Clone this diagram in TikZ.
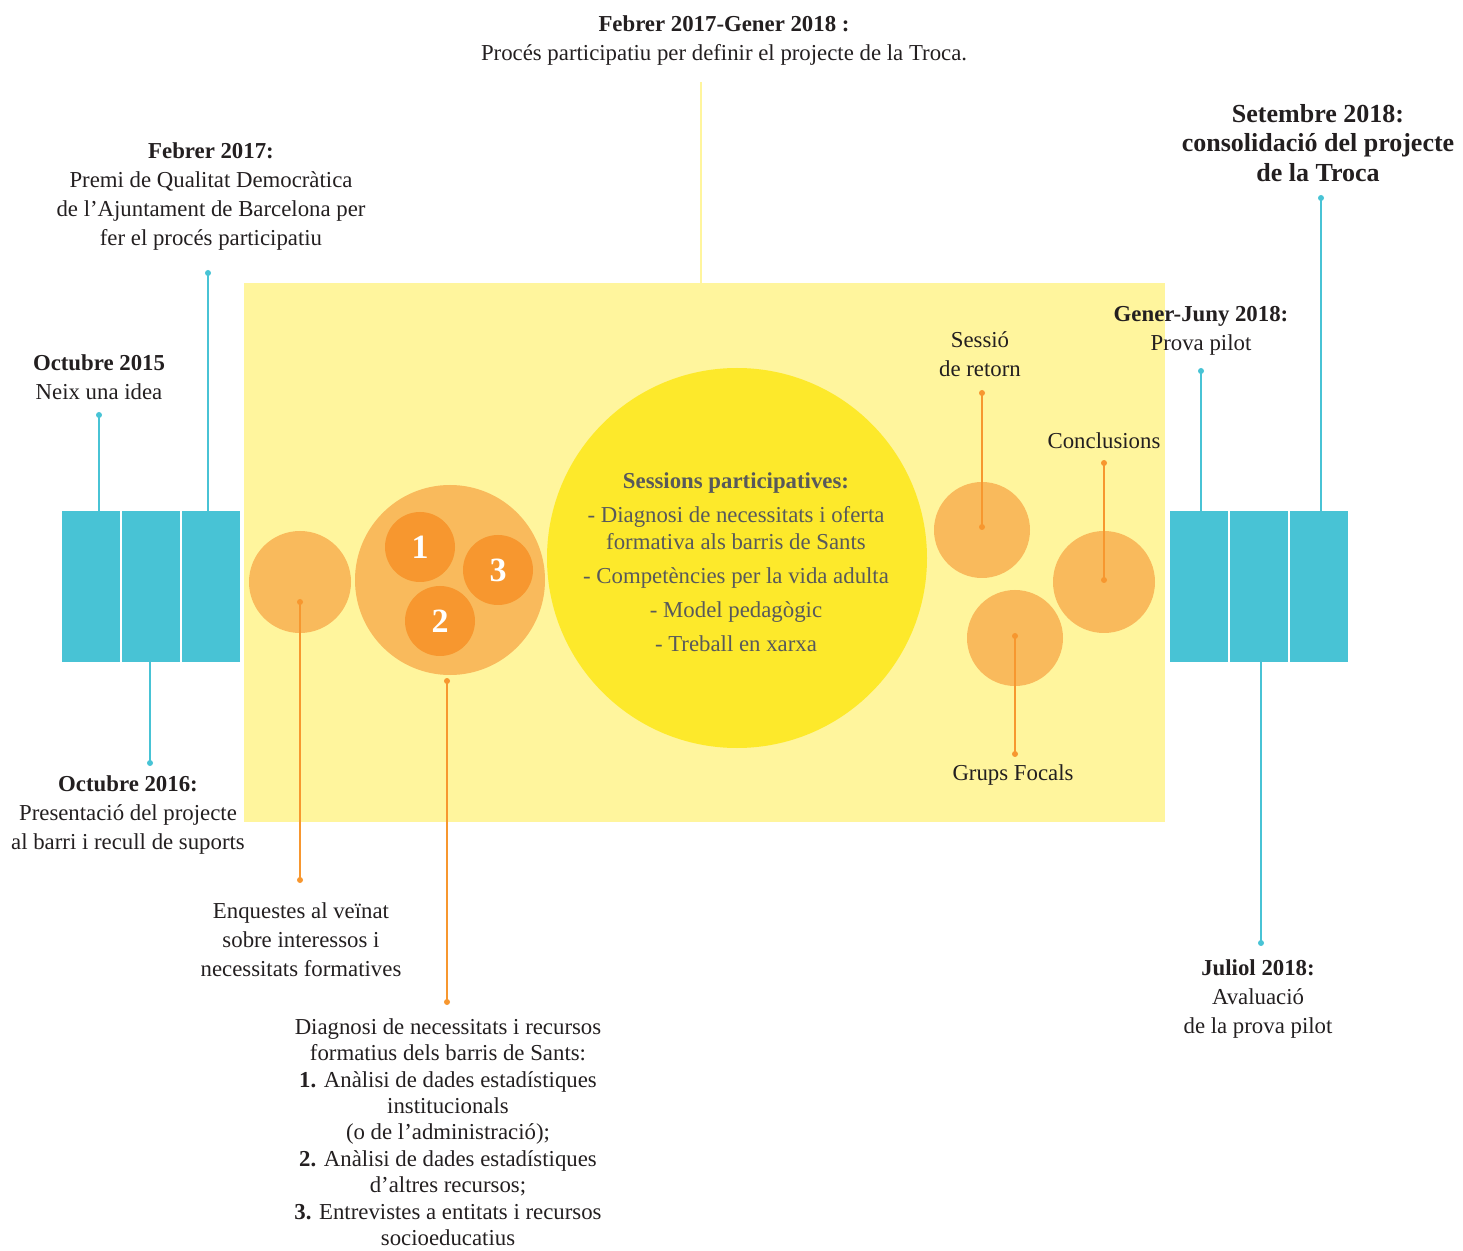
\documentclass[tikz,border=0pt]{standalone}
\usepackage{fontspec}
\setmainfont{Liberation Serif}
\usepackage{xcolor}
\definecolor{troca-pale}{HTML}{FFF59D}
\definecolor{troca-sun}{HTML}{FDE92B}
\definecolor{troca-peach}{HTML}{F9BA5C}
\definecolor{troca-orange}{HTML}{F7972F}
\definecolor{troca-cyan}{HTML}{48C3D5}
\definecolor{troca-ink}{HTML}{231F20}
\definecolor{troca-gray}{HTML}{58595B}
\tikzset{
    blue-bar/.style = {fill=troca-cyan, rectangle, inner sep=0pt, minimum width=29pt, minimum height=75.5pt},
    peach-circle/.style = {circle, fill=troca-peach, inner sep=0pt},
    number-circle/.style = {circle, fill=troca-orange, inner sep=0pt, minimum size=35pt, text=white, font=\bfseries\fontsize{17}{17}\selectfont},
    blue-dot/.style = {circle, fill=troca-cyan, inner sep=0pt, minimum size=3pt},
    orange-dot/.style = {circle, fill=troca-orange, inner sep=0pt, minimum size=3pt},
    blue-line/.style = {draw=troca-cyan, line width=0.9pt},
    orange-line/.style = {draw=troca-orange, line width=0.9pt},
    label-text/.style = {text=troca-ink, align=center, inner sep=0pt, font=\fontsize{11.4}{14.5}\selectfont},
}

\begin{document}
\begin{tikzpicture}[x=0.5pt, y=-0.5pt]
\useasboundingbox (0,0) rectangle (1463,1251);

% yellow area and circles
\node [fill=troca-pale, rectangle, inner sep=0pt, minimum width=460.5pt, minimum height=269.5pt] (yellow-area) at (704.5,552.5) {};
\coordinate (top-end) at (701,82);
\draw [troca-pale, line width=1.2pt] (top-end) -- (top-end |- yellow-area.north);

\node [circle, fill=troca-sun, inner sep=0pt, minimum size=190pt] (sessions) at (737,558) {};
\node [peach-circle, minimum size=51pt] (enquestes) at (300,582) {};
\node [peach-circle, minimum size=95pt] (diagnosi) at (450,580) {};
\node [number-circle] (num-1) at (420,547) {1};
\node [number-circle] (num-3) at (498,570) {3};
\node [number-circle] (num-2) at (440,621) {2};
\node [peach-circle, minimum size=48pt] (retorn) at (982,530) {};
\node [peach-circle, minimum size=51pt] (conclusions) at (1104,582) {};
\node [peach-circle, minimum size=48pt] (focals) at (1015,638) {};

% blue bars
\node [blue-bar] (bar-l1) at (91,586.5) {};
\node [blue-bar] (bar-l2) at (151,586.5) {};
\node [blue-bar] (bar-l3) at (211,586.5) {};
\node [blue-bar] (bar-r1) at (1199,586.5) {};
\node [blue-bar] (bar-r2) at (1259,586.5) {};
\node [blue-bar] (bar-r3) at (1319,586.5) {};

% blue connectors
\node [blue-dot] (dot-oct15) at (99,415) {};
\node [blue-dot] (dot-feb17) at (208,273) {};
\node [blue-dot] (dot-oct16) at (150,763) {};
\node [blue-dot] (dot-gen18) at (1201,371) {};
\node [blue-dot] (dot-set18) at (1321,198) {};
\node [blue-dot] (dot-jul18) at (1261,943) {};
\draw [blue-line] (dot-oct15.center) -- (dot-oct15 |- bar-l1.north);
\draw [blue-line] (dot-feb17.center) -- (dot-feb17 |- bar-l3.north);
\draw [blue-line] (dot-oct16.center) -- (dot-oct16 |- bar-l2.south);
\draw [blue-line] (dot-gen18.center) -- (dot-gen18 |- bar-r1.north);
\draw [blue-line] (dot-set18.center) -- (dot-set18 |- bar-r3.north);
\draw [blue-line] (dot-jul18.center) -- (dot-jul18 |- bar-r2.south);

% orange connectors
\node [orange-dot] (enq-a) at (300,602) {};
\node [orange-dot] (enq-b) at (300,880) {};
\node [orange-dot] (diag-a) at (447,681) {};
\node [orange-dot] (diag-b) at (447,1002) {};
\node [orange-dot] (ret-a) at (982,393) {};
\node [orange-dot] (ret-b) at (982,527) {};
\node [orange-dot] (conc-a) at (1104,463) {};
\node [orange-dot] (conc-b) at (1104,580) {};
\node [orange-dot] (foc-a) at (1015,636) {};
\node [orange-dot] (foc-b) at (1015,754) {};
\draw [orange-line] (enq-a.center) -- (enq-b.center);
\draw [orange-line] (diag-a.center) -- (diag-b.center);
\draw [orange-line] (ret-a.center) -- (ret-b.center);
\draw [orange-line] (conc-a.center) -- (conc-b.center);
\draw [orange-line] (foc-a.center) -- (foc-b.center);

% labels
\node [label-text] (lbl-proces) at (724,41) {\textbf{Febrer 2017-Gener 2018 :}\\Procés participatiu per definir el projecte de la Troca.};
\node [label-text] (lbl-feb17) at (211,197) {\textbf{Febrer 2017:}\\Premi de Qualitat Democràtica\\de l’Ajuntament de Barcelona per\\fer el procés participatiu};
\node [label-text] (lbl-oct15) at (99,377) {\textbf{Octubre 2015}\\Neix una idea};
\node [label-text] (lbl-oct16) at (128,815) {\textbf{Octubre 2016:}\\Presentació del projecte\\al barri i recull de suports};
\node [label-text] (lbl-enq) at (301,940) {Enquestes al veïnat\\sobre interessos i\\necessitats formatives};
\node [label-text, font=\fontsize{11.4}{13.2}\selectfont] (lbl-diag) at (448,1132) {Diagnosi de necessitats i recursos\\formatius dels barris de Sants:\\\textbf{1.} Anàlisi de dades estadístiques\\institucionals\\(o de l’administració);\\\textbf{2.} Anàlisi de dades estadístiques\\d’altres recursos;\\\textbf{3.} Entrevistes a entitats i recursos\\socioeducatius};
\node [label-text, text=troca-gray, font=\fontsize{11.4}{13.5}\selectfont] (lbl-sessions) at (736,562) {\textbf{Sessions participatives:}\\[3.5pt]- Diagnosi de necessitats i oferta\\formativa als barris de Sants\\[3.5pt]- Competències per la vida adulta\\[3.5pt]- Model pedagògic\\[3.5pt]- Treball en xarxa};
\node [label-text] (lbl-retorn) at (980,354) {Sessió\\de retorn};
\node [label-text] (lbl-conc) at (1104,441) {Conclusions};
\node [label-text] (lbl-focals) at (1013,775) {Grups Focals};
\node [label-text] (lbl-gen18) at (1201,331) {\textbf{Gener-Juny 2018:}\\Prova pilot};
\node [label-text, font=\bfseries\fontsize{13}{14.8}\selectfont] (lbl-set18) at (1318,143) {Setembre 2018:\\consolidació del projecte\\de la Troca};
\node [label-text] (lbl-jul18) at (1258,999) {\textbf{Juliol 2018:}\\Avaluació\\de la prova pilot};
\end{tikzpicture}
\end{document}
